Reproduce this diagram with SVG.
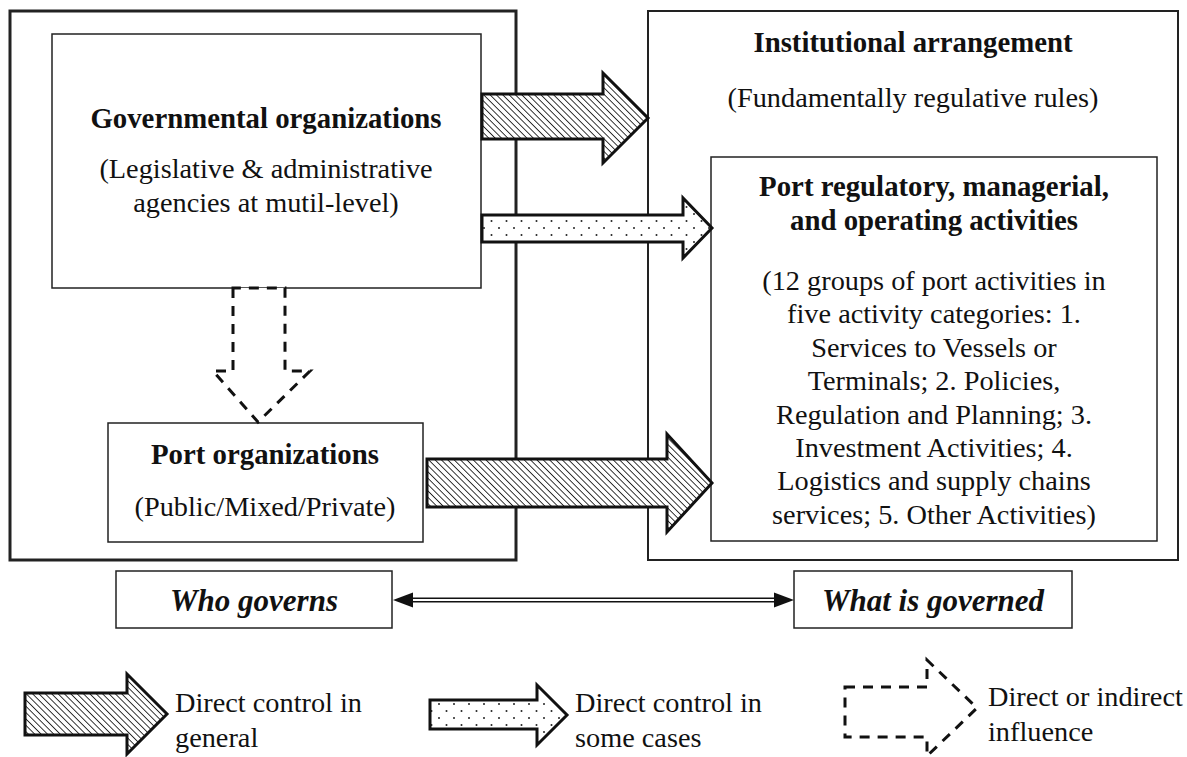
<svg xmlns="http://www.w3.org/2000/svg" width="1187" height="757" viewBox="0 0 1187 757">
<style>
text{font-family:"Liberation Serif","Times New Roman",serif;font-size:28.3px;fill:#111;}
.b{font-weight:bold;font-size:28.8px;}
.bi{font-weight:bold;font-style:italic;font-size:31px;}
.c{text-anchor:middle;}
.box{fill:#fff;stroke:#222;stroke-width:1.5;}
.frame{fill:#fff;stroke:#222;stroke-width:2;}
.outer{fill:none;stroke:#222;stroke-width:3;}
.hat{fill:url(#hatch);stroke:#111;stroke-width:3;stroke-linejoin:miter;}
.dot{fill:url(#dots);stroke:#111;stroke-width:3;stroke-linejoin:miter;}
.dash{fill:#fff;stroke:#111;stroke-width:3;stroke-dasharray:10 8;}
</style>
<defs>
<pattern id="hatch" patternUnits="userSpaceOnUse" width="4.5" height="4.5" patternTransform="rotate(-45)">
<rect width="4.5" height="4.5" fill="#fff"/>
<line x1="0" y1="0" x2="0" y2="4.5" stroke="#222" stroke-width="1.8"/>
</pattern>
<pattern id="dots" patternUnits="userSpaceOnUse" width="15" height="14">
<rect width="15" height="14" fill="#fff"/>
<circle cx="4" cy="4" r="1" fill="#222"/>
<circle cx="11.5" cy="11" r="1" fill="#222"/>
</pattern>
</defs>
<rect width="1187" height="757" fill="#fff"/>

<g id="who-governs-frame">
<rect class="outer" x="10" y="11" width="506" height="549"/>
</g>
<g id="what-governed-frame">
<rect class="frame" x="648" y="11" width="530" height="549"/>
<text class="b c" x="913" y="52">Institutional arrangement</text>
<text class="c" x="913" y="107">(Fundamentally regulative rules)</text>
</g>
<g id="governmental">
<rect class="box" x="52" y="34" width="429" height="254"/>
<text class="b c" x="266" y="128">Governmental organizations</text>
<text class="c" x="266" y="178">(Legislative &amp; administrative</text>
<text class="c" x="266" y="212">agencies at mutil-level)</text>
</g>
<g id="port-org">
<rect class="box" x="108" y="423" width="315" height="119"/>
<text class="b c" x="265" y="464">Port organizations</text>
<text class="c" x="265" y="516">(Public/Mixed/Private)</text>
</g>
<g id="activities">
<rect class="box" x="711" y="157" width="446" height="384"/>
<text class="b c" x="934" y="196">Port regulatory, managerial,</text>
<text class="b c" x="934" y="230">and operating activities</text>
<text class="c" x="934" y="290">(12 groups of port activities in</text>
<text class="c" x="934" y="323.4">five activity categories: 1.</text>
<text class="c" x="934" y="356.8">Services to Vessels or</text>
<text class="c" x="934" y="390.2">Terminals; 2. Policies,</text>
<text class="c" x="934" y="423.6">Regulation and Planning; 3.</text>
<text class="c" x="934" y="457">Investment Activities; 4.</text>
<text class="c" x="934" y="490.4">Logistics and supply chains</text>
<text class="c" x="934" y="523.8">services; 5. Other Activities)</text>
</g>
<g id="who-governs">
<rect class="box" x="116" y="571" width="276" height="57"/>
<text class="bi c" x="254" y="611">Who governs</text>
</g>
<g id="what-is-governed">
<rect class="box" x="794" y="571" width="278" height="57"/>
<text class="bi c" x="933" y="611">What is governed</text>
</g>

<g id="connectors">
<polygon class="hat" points="482,94 603,94 603,73 648,118 603,163 603,139 482,139"/>
<polygon class="dot" points="482,215 683,215 683,198 712,228 683,258 683,242 482,242"/>
<polygon class="hat" points="427,459 667,459 667,434 712,483 667,532 667,507 427,507"/>
<polygon class="dash" points="233,288 233,371 213,371 258,422 310,371 285,371 285,288"/>
<line x1="410" y1="600" x2="777" y2="600" stroke="#111" stroke-width="5"/>
<line x1="410" y1="600" x2="777" y2="600" stroke="#fff" stroke-width="2"/>
<polygon points="393,600 413,592.5 413,607.5" fill="#111"/>
<polygon points="794,600 774,592.5 774,607.5" fill="#111"/>
</g>

<g id="legend">
<polygon class="hat" points="25,693 127,693 127,674 167,714 127,754 127,735 25,735"/>
<text x="175" y="712">Direct control in</text>
<text x="175" y="747">general</text>
<polygon class="dot" points="430,700 537,700 537,685 567,715 537,745 537,729 430,729"/>
<text x="575" y="712">Direct control in</text>
<text x="575" y="747">some cases</text>
<polygon class="dash" points="845,687 927,687 927,660 977,708 927,756 927,737 845,737"/>
<text x="988" y="706">Direct or indirect</text>
<text x="988" y="741">influence</text>
</g>
</svg>
